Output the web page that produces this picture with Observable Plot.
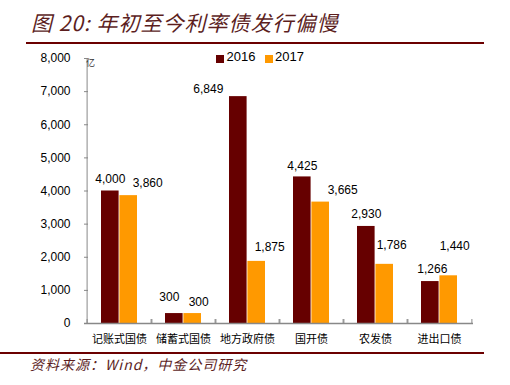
<!DOCTYPE html>
<html>
<head>
<meta charset="utf-8">
<script src="https://cdn.jsdelivr.net/npm/d3@7"></script>
<script src="https://cdn.jsdelivr.net/npm/@observablehq/plot@0.6"></script>
<style>
  html, body { margin: 0; padding: 0; background: #fff; }
  #wrap { position: relative; width: 510px; height: 385px; overflow: hidden; font-family: "Liberation Sans", Arial, sans-serif; }
  #chart { position: absolute; left: 0; top: 0; }
  .title { position: absolute; left: 31px; top: 12px; font-family: "Noto Sans CJK SC", sans-serif; font-style: italic; font-size: 21px; letter-spacing: 1px; color: #5c1e1e; white-space: nowrap; line-height: 1; }
  .rule { position: absolute; background: #6b0000; height: 2px; }
  .source { position: absolute; left: 30px; top: 357px; font-family: "Noto Sans CJK SC", sans-serif; font-style: italic; font-size: 14px; letter-spacing: 1px; color: #5c1e1e; white-space: nowrap; line-height: 1; }
  .legend { position: absolute; top: 50px; font-size: 13px; color: #000; white-space: nowrap; line-height: 1; }
  .sw { position: absolute; width: 7.5px; height: 7.5px; top: 55px; }
  .unit { position: absolute; left: 86px; top: 58px; font-family: "Noto Sans CJK SC", sans-serif; font-size: 9px; color: #333; line-height: 1; }
</style>
</head>
<body>
<div id="wrap">
  <div id="chart"></div>
  <div class="title">图 20: 年初至今利率债发行偏慢</div>
  <div class="rule" style="left:26px; top:42px; width:458px;"></div>
  <div class="unit">亿</div>
  <div id="legend"></div>
  <div class="rule" style="left:0px; top:352px; width:484px;"></div>
  <div class="source">资料来源：Wind，中金公司研究</div>
</div>
<script>
const categories = ["记账式国债", "储蓄式国债", "地方政府债", "国开债", "农发债", "进出口债"];
const years = ["2016", "2017"];
const values2016 = [4000, 300, 6849, 4425, 2930, 1266];
const values2017 = [3860, 300, 1875, 3665, 1786, 1440];
const yTicks = [0, 1000, 2000, 3000, 4000, 5000, 6000, 7000, 8000];

// label placement nudges (px), as placed in the original
const labelDx2016 = [0, -5, -30, 0, 0, 2];
const labelGap2016 = [8, 12, 3, 6, 8, 8];
const labelDx2017 = [19, 6, 13, 22, 7, 6];
const labelGap2017 = [8, 7, 10, 8, 15, 25];

const colors = {"2016": "#660000", "2017": "#FF9900"};
const fmt = d3.format(",");

const data2016 = categories.map((c, i) => ({category: c, value: values2016[i]}));
const data2017 = categories.map((c, i) => ({category: c, value: values2017[i]}));

const half = 32.4;
const labelMarks = [];
data2016.forEach((d, i) => {
  labelMarks.push(Plot.text([d], {x: "category", y: "value", text: (e) => fmt(e.value),
    dx: -9.2 + labelDx2016[i], dy: -(labelGap2016[i] + 4.3), fontSize: 12, fill: "#000"}));
});
data2017.forEach((d, i) => {
  labelMarks.push(Plot.text([d], {x: "category", y: "value", text: (e) => fmt(e.value),
    dx: 9.2 + labelDx2017[i], dy: -(labelGap2017[i] + 4.3), fontSize: 12, fill: "#000"}));
});

const chart = Plot.plot({
  width: 510,
  height: 385,
  marginTop: 58,
  marginBottom: 62,
  marginLeft: 84,
  marginRight: 37,
  style: {fontFamily: "'Liberation Sans', Arial, sans-serif", fontSize: "12px", color: "#000", background: "transparent", overflow: "visible"},
  x: {domain: categories, padding: 0, label: null},
  y: {domain: [0, 8000], label: null},
  marks: [
    Plot.barY(data2016, {x: "category", y: "value", fill: colors["2016"], insetLeft: 14, insetRight: half}),
    Plot.barY(data2017, {x: "category", y: "value", fill: colors["2017"], insetLeft: half, insetRight: 14}),
    // y axis: labels, inward ticks, line
    Plot.axisY({ticks: yTicks, tickFormat: fmt, tickSize: 0, tickPadding: 14, fontSize: 12, fill: "#000"}),
    Plot.axisY({ticks: yTicks, text: null, tickSize: 4, dx: 4, stroke: "#888"}),
    Plot.ruleX([categories[0]], {x: (d) => d, y1: 0, y2: 8000, dx: -half, stroke: "#888"}),
    // x axis: labels, boundary ticks (inward), line
    Plot.axisX({tickSize: 0, tickPadding: 12, fontFamily: "'Noto Sans CJK SC', sans-serif", fontSize: 11, fill: "#000", style: {letterSpacing: "0.4px"}}),
    Plot.axisX({text: null, tickSize: 4, dx: -half, dy: -4, stroke: "#888"}),
    Plot.axisX({text: null, tickSize: 4, dx: half, dy: -4, stroke: "#888"}),
    Plot.ruleY([0], {stroke: "#888", strokeWidth: 1.3}),
    ...labelMarks
  ]
});
document.getElementById("chart").appendChild(chart);

// legend
const legend = document.getElementById("legend");
const legendPos = {"2016": {sw: 216, tx: 226.5}, "2017": {sw: 265, tx: 275}};
years.forEach((y) => {
  const sw = document.createElement("div");
  sw.className = "sw";
  sw.style.left = legendPos[y].sw + "px";
  sw.style.background = colors[y];
  legend.appendChild(sw);
  const t = document.createElement("div");
  t.className = "legend";
  t.style.left = legendPos[y].tx + "px";
  t.textContent = y;
  legend.appendChild(t);
});
</script>
</body>
</html>
